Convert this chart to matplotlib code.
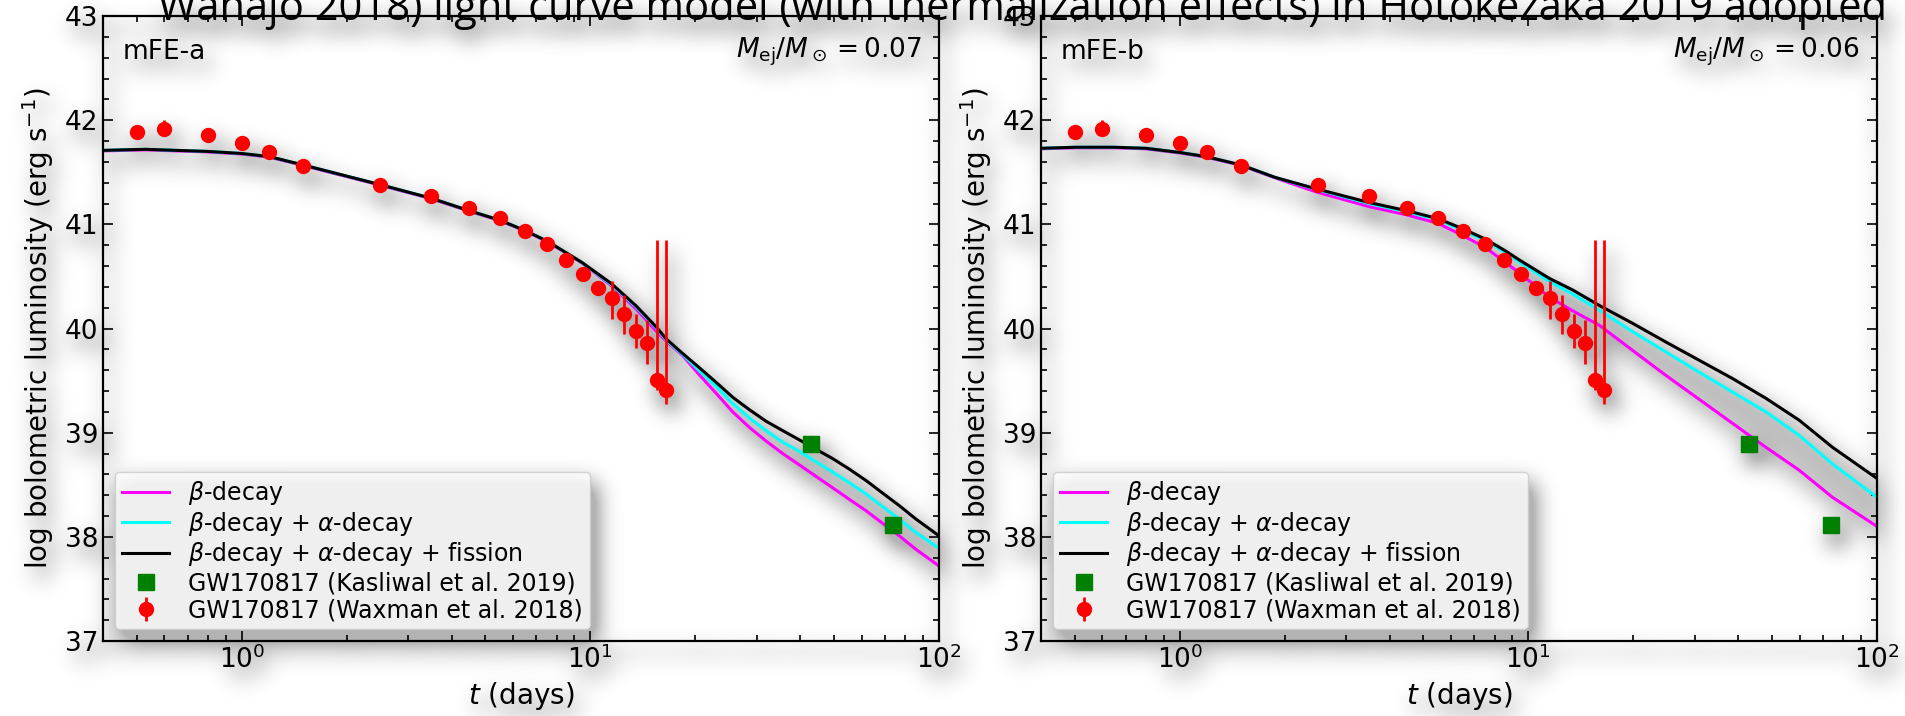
import numpy as np
import matplotlib
matplotlib.use("Agg")
import matplotlib.pyplot as plt
from matplotlib.ticker import MultipleLocator

# GW170817 bolometric light curve (Waxman et al. 2018)
wax_t = [0.5, 0.6, 0.8, 1.0, 1.2, 1.5, 2.5, 3.5, 4.5, 5.5, 6.5, 7.5, 8.5, 9.5,
         10.5, 11.5, 12.5, 13.5, 14.5, 15.5, 16.5]
wax_L = [41.89, 41.92, 41.86, 41.78, 41.69, 41.56, 41.38, 41.27, 41.16, 41.06,
         40.94, 40.81, 40.66, 40.52, 40.39, 40.29, 40.14, 39.98, 39.86, 39.51, 39.41]
wax_lo = [0.02, 0.06, 0.02, 0.02, 0.02, 0.02, 0.02, 0.02, 0.02, 0.02, 0.02,
          0.02, 0.02, 0.02, 0.07, 0.20, 0.19, 0.17, 0.20, 0.10, 0.13]
wax_hi = [0.02, 0.08, 0.02, 0.02, 0.02, 0.02, 0.02, 0.02, 0.02, 0.02, 0.02,
          0.02, 0.02, 0.02, 0.03, 0.17, 0.18, 0.16, 0.22, 1.34, 1.44]

# Kasliwal et al. 2019 (Spitzer)
kas_t = [43.0, 74.0]
kas_L = [38.89, 38.11]

# model mFE-a
t_a = [0.4, 0.53, 0.8, 1.0, 1.2, 1.5, 2.5, 3.5, 4.5, 5.5, 6.5, 7.5, 8.5, 9.5,
       11.5, 13.5, 15.5, 16.5, 18.4, 20.6, 23.0, 25.6, 28.6, 31.9, 35.6, 39.8,
       44.4, 49.6, 55.3, 61.8, 68.9, 76.9, 85.9, 100.0]
beta_a = [41.705, 41.715, 41.695, 41.675, 41.645, 41.565, 41.375, 41.245, 41.125,
          41.035, 40.935, 40.835, 40.725, 40.625, 40.41, 40.19, 39.97, 39.88,
          39.74, 39.55, 39.375, 39.20, 39.05, 38.92, 38.80, 38.69, 38.58, 38.47,
          38.36, 38.25, 38.13, 38.01, 37.88, 37.72]
alpha_a = [41.71, 41.72, 41.70, 41.68, 41.65, 41.57, 41.38, 41.25, 41.13, 41.04,
           40.94, 40.84, 40.73, 40.63, 40.42, 40.21, 40.00, 39.89, 39.75, 39.59,
           39.44, 39.28, 39.14, 39.02, 38.91, 38.82, 38.72, 38.62, 38.52, 38.41,
           38.29, 38.17, 38.04, 37.89]
fis_a = [41.71, 41.72, 41.70, 41.68, 41.65, 41.57, 41.38, 41.25, 41.13, 41.04,
         40.94, 40.84, 40.73, 40.63, 40.43, 40.22, 40.01, 39.90, 39.76, 39.62,
         39.48, 39.34, 39.22, 39.11, 39.02, 38.93, 38.84, 38.75, 38.65, 38.54,
         38.42, 38.30, 38.17, 38.01]

# model mFE-b
t_b = [0.4, 0.505, 0.648, 0.8, 1.0, 1.19, 1.5, 1.88, 2.47, 3.49, 4.49, 5.5,
       6.46, 7.51, 8.55, 9.45, 11.5, 13.4, 16.0, 19.9, 24.8, 30.9, 38.5, 48.0,
       59.8, 74.5, 100.0]
beta_b = [41.725, 41.735, 41.735, 41.725, 41.685, 41.645, 41.565, 41.445, 41.31,
          41.17, 41.09, 41.01, 40.895, 40.78, 40.64, 40.53, 40.30, 40.17, 40.03,
          39.79, 39.55, 39.32, 39.09, 38.86, 38.64, 38.38, 38.10]
alpha_b = [41.73, 41.74, 41.74, 41.73, 41.69, 41.65, 41.57, 41.45, 41.335, 41.20,
           41.12, 41.045, 40.945, 40.845, 40.735, 40.635, 40.45, 40.33, 40.175,
           39.97, 39.775, 39.58, 39.39, 39.20, 38.975, 38.70, 38.38]
fis_b = [41.73, 41.74, 41.74, 41.73, 41.69, 41.65, 41.57, 41.45, 41.34, 41.21,
         41.13, 41.055, 40.96, 40.86, 40.75, 40.655, 40.48, 40.37, 40.22, 40.05,
         39.87, 39.695, 39.52, 39.33, 39.12, 38.86, 38.56]

panels = [("mFE-a", "0.07", t_a, beta_a, alpha_a, fis_a),
          ("mFE-b", "0.06", t_b, beta_b, alpha_b, fis_b)]


#soft blurred drop shadow under everything an artist draws
def _blur(a, sigma):
    r = int(3 * sigma)
    k = np.exp(-np.arange(-r, r + 1) ** 2 / (2.0 * sigma ** 2))
    k /= k.sum()
    p = np.pad(a, r)
    out = np.zeros_like(p)
    for i, w in enumerate(k):
        out[r:-r, :] += w * p[i:i + p.shape[0] - 2 * r, :]
    p = out
    out = np.zeros_like(p)
    for i, w in enumerate(k):
        out[:, r:-r] += w * p[:, i:i + p.shape[1] - 2 * r]
    return out[r:-r, r:-r]


def drop_shadow(im, dpi, sigma=11, dx=6, dy=11, gain=2.2, strength=0.3):
    pad = int(3 * sigma) + max(dx, dy) + 2
    src = np.pad(im, ((pad, pad), (pad, pad), (0, 0)))
    a = src[..., 3]
    sh = _blur(a, sigma)
    sh = np.roll(sh, (dy, dx), axis=(0, 1))
    sh = np.clip(sh * gain, 0, 1) * strength
    out_a = a + sh * (1 - a)
    out = np.zeros_like(src)
    nz = out_a > 0
    out[..., :3][nz] = src[..., :3][nz] * a[nz][:, None] / out_a[nz][:, None]
    out[..., 3] = out_a
    return out, -pad, -pad


fig = plt.figure(figsize=(19.05, 7.16), dpi=100)

ttl = fig.text(0.083, 0.972, "Wanajo 2018) light curve model (with thermalization effects) "
               "in Hotokezaka 2019 adopted", fontsize=30, family="Open Sans",
               ha="left", va="baseline")
ttl.set_agg_filter(drop_shadow)

lefts = [103 / 1905, 1041 / 1905]
for i, (name, mej, t, lb, la, lf) in enumerate(panels):
    ax = fig.add_axes([lefts[i], 75 / 716, 836 / 1905, 625 / 716])
    ax.set_facecolor("none")

    ax.fill_between(t, lb, la, color="0.8", alpha=0.35, lw=0)
    ax.fill_between(t, la, lf, color="0.86", alpha=0.3, lw=0)
    l1, = ax.plot(t, lb, color="magenta", lw=2.2, label=r"$\beta$-decay")
    l2, = ax.plot(t, la, color="cyan", lw=2.2, label=r"$\beta$-decay + $\alpha$-decay")
    l3, = ax.plot(t, lf, color="black", lw=2.2,
                  label=r"$\beta$-decay + $\alpha$-decay + fission")
    sq, = ax.plot(kas_t, kas_L, "s", color="green", ms=11, ls="none", zorder=5,
                  label="GW170817 (Kasliwal et al. 2019)")
    eb = ax.errorbar(wax_t, wax_L, yerr=[wax_lo, wax_hi], fmt="o", color="red",
                     ms=10, elinewidth=2, capsize=0, zorder=6,
                     label="GW170817 (Waxman et al. 2018)")

    ax.set_xscale("log")
    ax.set_xlim(0.4, 100)
    ax.set_ylim(37, 43)
    ax.yaxis.set_minor_locator(MultipleLocator(0.2))
    ax.tick_params(which="both", direction="in", top=True, right=True,
                   labelsize=19, width=1.2)
    ax.tick_params(which="major", length=7)
    ax.tick_params(which="minor", length=4)
    for s in ax.spines.values():
        s.set_linewidth(1.6)

    ax.set_xlabel(r"$t$ (days)", fontsize=20, labelpad=4)
    ax.set_ylabel(r"log bolometric luminosity (erg s$^{-1}$)", fontsize=20, labelpad=6)
    ax.text(0.023, 0.942, name, transform=ax.transAxes, fontsize=19,
            ha="left", va="center")
    ax.text(0.979, 0.942, r"$M_{\rm ej}/M_\odot = %s$" % mej, transform=ax.transAxes,
            fontsize=19, ha="right", va="center")

    ax.legend(handles=[l1, l2, l3, sq, eb], loc="lower left", fontsize=17,
              labelspacing=0.12, borderpad=0.3, handlelength=2.0,
              borderaxespad=0.5, fancybox=True, framealpha=0.8)
    ax.set_agg_filter(drop_shadow)

fig.savefig("out.png", dpi=100)
